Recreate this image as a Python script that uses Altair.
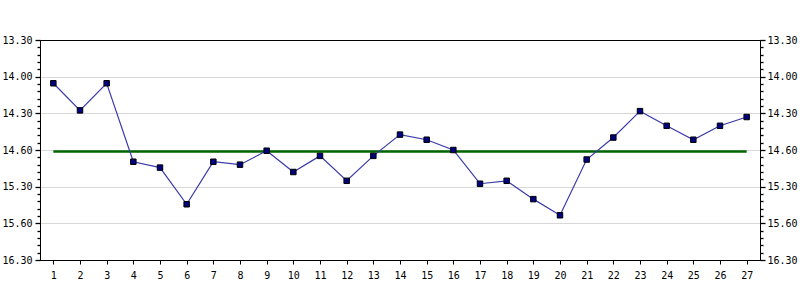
import json
import altair as alt
import pandas as pd

# ---- data ----
samples = list(range(1, 28))
values = [14.09, 14.46, 14.09, 15.16, 15.24, 15.74, 15.16, 15.20, 15.01, 15.30,
          15.08, 15.42, 15.08, 14.79, 14.86, 15.00, 15.46, 15.42, 15.67, 15.89,
          15.13, 14.83, 14.47, 14.67, 14.86, 14.67, 14.55]
target = 15.02
tick_labels = ["13.30", "14.00", "14.30", "14.60", "15.30", "15.60", "16.30"]
y_lo, y_hi = 13.5, 16.5

df = pd.DataFrame({"sample": samples, "value": values})
df_target = pd.DataFrame({"x": [samples[0]], "x2": [samples[-1]], "y": [target]})

major_values = [y_lo + 0.5 * i for i in range(len(tick_labels))]
minor_values = [round(y_lo + 0.1 * i, 1) for i in range(31) if i % 5 != 0]
grid_values = major_values[1:-1]
label_expr = f"{json.dumps(tick_labels)}[round((datum.value-{y_lo})*2)]"

FONT = "DejaVu Sans Mono"

x_scale = alt.Scale(domain=[0.5, 27.5], nice=False, zero=False)
y_scale = alt.Scale(domain=[y_lo, y_hi], reverse=True, nice=False, zero=False)

x_axis = alt.Axis(values=samples, title=None, grid=False, tickSize=4,
                  labelPadding=6, labelFont=FONT, labelFontSize=10,
                  labelColor="black", domainColor="black", tickColor="black",
                  labelAngle=0)


def major_axis(orient):
    return alt.Axis(
        orient=orient, values=major_values, labelExpr=label_expr, title=None,
        ticks=True, tickSize=5, tickWidth=1.3, tickOpacity=1, grid=False,
        labelPadding=3 if orient == "left" else 2,
        labelFont=FONT, labelFontSize=10, labelColor="black",
        domainColor="black", tickColor="black", labelOverlap=False,
    )


def minor_axis(orient):
    return alt.Axis(orient=orient, values=minor_values, labels=False, title=None,
                    ticks=True, tickSize=3, tickWidth=1.3, tickOpacity=1,
                    tickColor="black", domain=False, grid=False)


grid_axis = alt.Axis(orient="left", values=grid_values, labels=False, ticks=False,
                     domain=False, title=None, grid=True, gridColor="#d8d8d8")

target_line = alt.Chart(df_target).mark_rule(color="#006400", strokeWidth=2.5).encode(
    x=alt.X("x:Q", scale=x_scale, axis=x_axis),
    x2="x2:Q",
    y=alt.Y("y:Q", scale=y_scale, axis=major_axis("left")),
)

series = alt.Chart(df).mark_line(
    color="#3a3aaa", strokeWidth=1.2,
    point=alt.OverlayMarkDef(shape="square", size=30, filled=True,
                             fill="#000080", stroke="black", strokeWidth=1,
                             opacity=1),
).encode(
    x=alt.X("sample:Q", scale=x_scale, axis=x_axis),
    y=alt.Y("value:Q", scale=y_scale, axis=major_axis("right")),
)


def helper(axis):
    return alt.Chart(df).mark_point(opacity=0).encode(
        x=alt.X("sample:Q", scale=x_scale, axis=x_axis),
        y=alt.Y("value:Q", scale=y_scale, axis=axis),
    )


chart = alt.layer(
    helper(grid_axis), target_line, series,
    helper(minor_axis("left")), helper(minor_axis("right")),
).resolve_scale(y="independent").properties(
    width=720, height=220,
    autosize=alt.AutoSizeParams(type="none"),
    padding={"left": 40, "top": 40, "right": 40, "bottom": 40},
    background="white",
).configure_view(stroke="black", strokeWidth=1)

chart.save("out.html", embed_options={"renderer": "svg", "actions": False})
